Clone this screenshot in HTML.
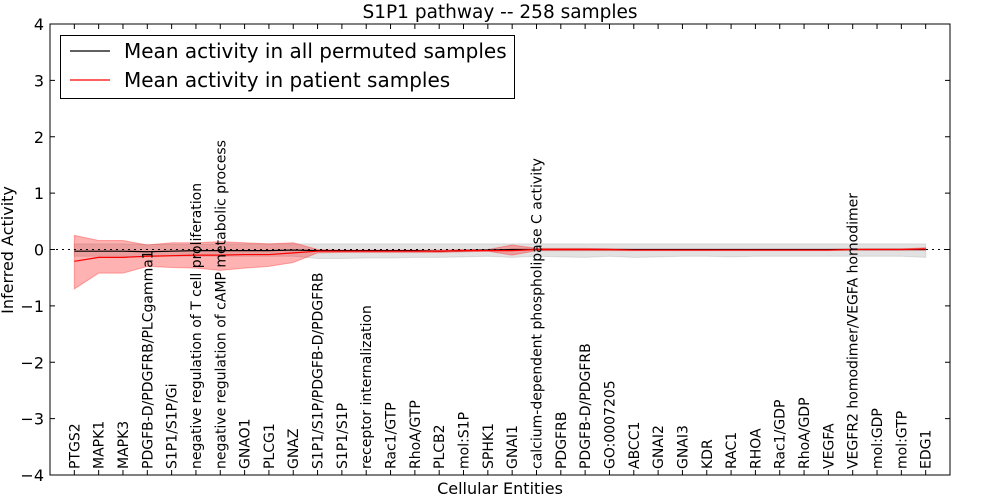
<!DOCTYPE html>
<html><head><meta charset="utf-8"><style>
body{margin:0;background:#fff;font-family:"DejaVu Sans",sans-serif}
</style></head><body>
<svg id="chart" width="1000" height="500" xmlns="http://www.w3.org/2000/svg" font-family="DejaVu Sans, sans-serif"></svg>
<script>
const categories=["PTGS2","MAPK1","MAPK3","PDGFB-D/PDGFRB/PLCgamma1","S1P1/S1P/Gi","negative regulation of T cell proliferation","negative regulation of cAMP metabolic process","GNAO1","PLCG1","GNAZ","S1P1/S1P/PDGFB-D/PDGFRB","S1P1/S1P","receptor internalization","Rac1/GTP","RhoA/GTP","PLCB2","mol:S1P","SPHK1","GNAI1","calcium-dependent phospholipase C activity","PDGFRB","PDGFB-D/PDGFRB","GO:0007205","ABCC1","GNAI2","GNAI3","KDR","RAC1","RHOA","Rac1/GDP","RhoA/GDP","VEGFA","VEGFR2 homodimer/VEGFA homodimer","mol:GDP","mol:GTP","EDG1"];
const patientMean=[-0.21,-0.14,-0.14,-0.12,-0.11,-0.1,-0.1,-0.09,-0.09,-0.06,-0.03,-0.03,-0.03,-0.03,-0.03,-0.03,-0.02,-0.02,-0.02,0,0,0,0,-0.01,-0.01,-0.01,-0.01,-0.01,-0.01,-0.01,-0.01,-0.01,0,0,0,0.01];
const patientUpper=[0.25,0.16,0.16,0.08,0.12,0.12,0.14,0.12,0.1,0.12,0.0,-0.01,-0.01,-0.01,-0.01,-0.01,0,0,0.08,0.02,0.02,0.02,0.01,0,0,0,0,0,0,0,0,0,0.01,0.01,0.01,0.03];
const patientLower=[-0.7,-0.42,-0.42,-0.3,-0.32,-0.33,-0.37,-0.33,-0.3,-0.23,-0.06,-0.05,-0.05,-0.05,-0.05,-0.05,-0.04,-0.03,-0.1,-0.02,-0.02,-0.02,-0.02,-0.02,-0.02,-0.02,-0.02,-0.02,-0.02,-0.02,-0.02,-0.02,-0.01,-0.01,-0.01,-0.01];
const permMean=[-0.03,-0.03,-0.03,-0.04,-0.03,-0.02,-0.02,-0.02,-0.02,-0.01,-0.02,-0.02,-0.02,-0.02,-0.02,-0.03,-0.02,-0.01,0,0,0,0,0,0,0,0,0,0,0,0,0,0,0,0,0,0];
const permUpper=[0.1,0.1,0.1,0.09,0.09,0.09,0.1,0.1,0.1,0.1,0.1,0.1,0.1,0.1,0.1,0.1,0.1,0.1,0.1,0.1,0.1,0.1,0.1,0.1,0.1,0.1,0.1,0.1,0.1,0.1,0.1,0.1,0.1,0.1,0.1,0.1];
const permLower=[-0.12,-0.12,-0.12,-0.13,-0.12,-0.12,-0.12,-0.12,-0.12,-0.12,-0.16,-0.16,-0.15,-0.15,-0.14,-0.14,-0.13,-0.12,-0.14,-0.12,-0.13,-0.14,-0.12,-0.14,-0.13,-0.12,-0.12,-0.13,-0.12,-0.12,-0.12,-0.12,-0.12,-0.12,-0.12,-0.14];
const yTicks=[-4,-3,-2,-1,0,1,2,3,4];
const yTickLabels=["\u22124","\u22123","\u22122","\u22121","0","1","2","3","4"];

const L=50,R=950,T=24,B=475;
const xs=i=>L+(i+1)*(R-L)/(categories.length+1);
const ys=v=>B-(v+4)/8*(B-T);
const svg=document.getElementById('chart');
const NS='http://www.w3.org/2000/svg';
function mk(tag,attrs,parent){const e=document.createElementNS(NS,tag);for(const k in attrs)e.setAttribute(k,attrs[k]);(parent||svg).appendChild(e);return e;}
function band(up,lo,fill,op,name){
  let d='M'+up.map((v,i)=>xs(i)+','+ys(v)).join('L');
  for(let i=lo.length-1;i>=0;i--)d+='L'+xs(i)+','+ys(lo[i]);
  const p=mk('path',{d:d+'Z',fill:fill,'fill-opacity':op,stroke:fill,'stroke-opacity':op});
  
  
}
function line(arr,color,name){
  const p=mk('path',{d:'M'+arr.map((v,i)=>xs(i)+','+ys(v)).join('L'),fill:'none',stroke:color,'stroke-width':1.2});
  
  
}
band(permUpper,permLower,'#a0a0a0',0.3,'permuted-band');
band(patientUpper,patientLower,'#ff0000',0.3,'patient-band');
const zl=mk('line',{x1:L,x2:R,y1:ys(0),y2:ys(0),stroke:'#000','stroke-dasharray':'2,4'});


line(permMean,'#000','permuted-mean-line');
line(patientMean,'#ff0000','patient-mean-line');
const fr=mk('rect',{x:L,y:T,width:R-L,height:B-T,fill:'none',stroke:'#000'});


yTicks.forEach((v,i)=>{
  const y=ys(v);
  mk('line',{x1:L,x2:L+5,y1:y,y2:y,stroke:'#000'});
  mk('line',{x1:R-5,x2:R,y1:y,y2:y,stroke:'#000'});
  const t=mk('text',{x:L-6,y:y+6,'text-anchor':'end','font-size':16});
  t.textContent=yTickLabels[i];
  
  
});
categories.forEach((c,i)=>{
  const x=xs(i);
  mk('line',{x1:x,x2:x,y1:B,y2:B-5,stroke:'#000'});
  mk('line',{x1:x,x2:x,y1:T,y2:T+5,stroke:'#000'});
  const t=mk('text',{x:x+5,y:469,transform:`rotate(-90 ${x+5} 469)`,'font-size':14});
  t.textContent=c;
  
  
});
const ti=mk('text',{x:500,y:18,'text-anchor':'middle','font-size':18.5});ti.textContent='S1P1 pathway -- 258 samples';


const xt=mk('text',{x:500,y:494,'text-anchor':'middle','font-size':16});xt.textContent='Cellular Entities';


const yt=mk('text',{x:13,y:250,'text-anchor':'middle','font-size':16,transform:'rotate(-90 13 250)'});yt.textContent='Inferred Activity';


const lg=mk('g',{});


mk('rect',{x:60.5,y:35.5,width:454,height:63,fill:'#fff',stroke:'#000'},lg);
mk('line',{x1:70,x2:110,y1:51,y2:51,stroke:'#000','stroke-width':1.2},lg);
mk('line',{x1:70,x2:110,y1:80,y2:80,stroke:'#ff0000','stroke-width':1.2},lg);
const l1=mk('text',{x:124,y:58,'font-size':20},lg);l1.textContent='Mean activity in all permuted samples';


const l2=mk('text',{x:124,y:87,'font-size':20},lg);l2.textContent='Mean activity in patient samples';


</script>
</body></html>
